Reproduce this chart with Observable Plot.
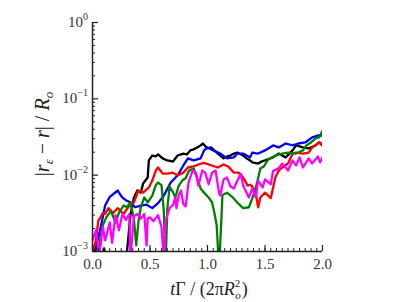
<!DOCTYPE html>
<html><head><meta charset="utf-8">
<script src="https://cdn.jsdelivr.net/npm/d3@7"></script>
<script src="https://cdn.jsdelivr.net/npm/@observablehq/plot@0.6"></script>
<style>body{margin:0;background:#fff}</style>
</head><body><div id="chart"></div>
<script>
const seriesNames = ["black","blue","red","green","magenta"];
const seriesColors = ["#08082a","#0000ff","#ff0000","#138a13","#ff3cc8"];

const tBlack = [0,0.04,0.08,0.1,0.12,0.2,0.27,0.3,0.33,0.36,0.39,0.42,0.44,0.46,0.48,0.49,0.52,0.55,0.57,0.61,0.65,0.7,0.74,0.79,0.82,0.85,0.88,0.91,0.94,0.96,1.0,1.03,1.06,1.09,1.14,1.17,1.2,1.23,1.26,1.31,1.34,1.37,1.39,1.44,1.47,1.5,1.57,1.62,1.68,1.71,1.74,1.77,1.83,1.88,1.91,1.94,1.97,2.0];
const vBlack = [0.0008,0.0012,0.0008,0.0011,0.0008,0.0008,0.0008,0.0010,0.0030,0.0051,0.0063,0.0059,0.0078,0.0085,0.0093,0.0156,0.0181,0.0176,0.0187,0.0166,0.0156,0.0151,0.0181,0.0192,0.0187,0.0211,0.0218,0.0231,0.0245,0.026,0.0224,0.0231,0.0211,0.0192,0.0166,0.0176,0.0181,0.0192,0.0198,0.0181,0.0166,0.0156,0.0147,0.0142,0.0151,0.0156,0.0171,0.0192,0.0171,0.0190,0.0211,0.0245,0.0231,0.0224,0.0235,0.0245,0.0268,0.0245];

const tBlue = [0,0.05,0.08,0.11,0.15,0.19,0.22,0.24,0.26,0.29,0.33,0.37,0.42,0.47,0.52,0.57,0.62,0.68,0.74,0.79,0.83,0.88,0.94,0.97,1.0,1.05,1.11,1.17,1.23,1.26,1.31,1.37,1.39,1.44,1.5,1.57,1.62,1.68,1.74,1.79,1.85,1.91,1.96,2.0];
const vBlue = [0.0009,0.0015,0.0024,0.0040,0.0052,0.0058,0.0063,0.0056,0.0051,0.0047,0.0044,0.0038,0.0040,0.0041,0.0037,0.0043,0.0054,0.0080,0.0099,0.0134,0.0166,0.0156,0.0166,0.0211,0.0231,0.0211,0.0192,0.0166,0.0171,0.0192,0.0192,0.0171,0.0198,0.0192,0.0211,0.0245,0.0231,0.026,0.0245,0.026,0.0268,0.0312,0.0331,0.0331];

const tRed = [0,0.03,0.05,0.09,0.11,0.14,0.18,0.22,0.27,0.31,0.36,0.40,0.44,0.49,0.52,0.55,0.57,0.61,0.65,0.70,0.74,0.79,0.83,0.88,0.92,0.97,1.03,1.09,1.14,1.18,1.23,1.27,1.31,1.35,1.37,1.39,1.42,1.44,1.46,1.50,1.55,1.59,1.62,1.65,1.70,1.74,1.77,1.83,1.88,1.91,1.96,1.98,2.0];
const vRed = [0.0010,0.0014,0.0025,0.0032,0.0031,0.0037,0.0032,0.0037,0.0031,0.0038,0.0044,0.0063,0.0059,0.0069,0.0085,0.0115,0.0126,0.0105,0.0105,0.0108,0.0099,0.0108,0.0126,0.0130,0.0138,0.0145,0.0135,0.0126,0.0138,0.0130,0.0108,0.0108,0.0093,0.0073,0.0075,0.0071,0.0058,0.0038,0.0051,0.0059,0.0050,0.0093,0.0115,0.0126,0.0142,0.0192,0.0198,0.0192,0.0198,0.0231,0.026,0.0268,0.0245];

const tGreen = [0.04,0.07,0.09,0.12,0.16,0.20,0.23,0.27,0.30,0.33,0.36,0.38,0.40,0.42,0.45,0.48,0.52,0.55,0.57,0.60,0.62,0.635,0.65,0.67,0.70,0.72,0.75,0.78,0.81,0.84,0.88,0.91,0.94,0.97,1.01,1.04,1.06,1.08,1.10,1.12,1.13,1.17,1.22,1.27,1.31,1.36,1.39,1.42,1.44,1.46,1.49,1.53,1.59,1.65,1.70,1.77,1.83,1.86,1.90,1.94,1.97,2.0];
const vGreen = [0.0008,0.0015,0.0022,0.0028,0.0034,0.0024,0.0032,0.0040,0.0038,0.0044,0.0027,0.0012,0.0025,0.0038,0.0051,0.0044,0.0054,0.0074,0.0080,0.0074,0.0034,0.0006,0.0035,0.0071,0.0060,0.0051,0.0073,0.0085,0.0091,0.0115,0.0122,0.0091,0.0067,0.0059,0.0051,0.0044,0.0032,0.0022,0.0006,0.0025,0.0055,0.0059,0.0051,0.0042,0.0037,0.0038,0.0050,0.0069,0.0091,0.0122,0.0130,0.0162,0.0181,0.0192,0.0198,0.0192,0.0211,0.0245,0.0268,0.0303,0.0312,0.038];

const tMagenta = [0,0.03,0.06,0.09,0.11,0.15,0.17,0.20,0.23,0.26,0.29,0.32,0.33,0.36,0.39,0.42,0.45,0.47,0.48,0.50,0.53,0.57,0.60,0.62,0.635,0.67,0.70,0.72,0.73,0.75,0.77,0.79,0.81,0.835,0.87,0.90,0.92,0.955,0.98,1.01,1.04,1.07,1.10,1.11,1.14,1.17,1.20,1.23,1.26,1.29,1.31,1.34,1.36,1.39,1.42,1.44,1.48,1.50,1.55,1.57,1.62,1.65,1.70,1.74,1.77,1.80,1.83,1.88,1.91,1.96,1.98,2.0];
const vMagenta = [0.0014,0.0019,0.0009,0.0021,0.0014,0.0024,0.0013,0.0030,0.0019,0.0031,0.0026,0.0031,0.0008,0.0029,0.0031,0.0027,0.0031,0.0012,0.0027,0.0028,0.0025,0.0030,0.0021,0.0008,0.0025,0.0037,0.0041,0.0051,0.0037,0.0055,0.0063,0.0042,0.0039,0.0080,0.0115,0.0108,0.0073,0.0115,0.0108,0.0076,0.0108,0.0115,0.0059,0.0054,0.0088,0.0093,0.0071,0.0067,0.0085,0.0104,0.0073,0.0059,0.0051,0.0067,0.0051,0.0085,0.0069,0.0088,0.0076,0.0113,0.0124,0.0142,0.0115,0.0156,0.0134,0.0171,0.0126,0.0166,0.0142,0.0176,0.0147,0.0171];

const xMajorTicks = [0, 0.5, 1, 1.5, 2];
const xTickLabels = ["0.0", "0.5", "1.0", "1.5", "2.0"];
const yMajorTicks = [1e-3, 1e-2, 1e-1, 1];
const yTickExponents = ["\u22123", "\u22122", "\u22121", "0"];

const xMinorTicks = d3.range(0, 40.5).map(i => i * 0.05);
const yMinorTicks = [];
for (const d of [1e-3, 1e-2, 1e-1]) for (let k = 2; k <= 9; k++) yMinorTicks.push(k * d);

const tArrays = [tBlack, tBlue, tRed, tGreen, tMagenta];
const vArrays = [vBlack, vBlue, vRed, vGreen, vMagenta];
const rows = [];
seriesNames.forEach((s, j) => tArrays[j].forEach((t, i) => rows.push({series: s, t, v: vArrays[j][i]})));

const FONT = "Liberation Serif";

const plot = Plot.plot({
  width: 399, height: 302,
  marginLeft: 92, marginRight: 77, marginTop: 22, marginBottom: 51,
  style: {fontFamily: "'Liberation Serif', serif", fontSize: "15px", color: "#333", background: "white", overflow: "visible"},
  x: {domain: [0, 2], ticks: xMajorTicks, tickFormat: d => xTickLabels[xMajorTicks.indexOf(d)], tickSize: 0, tickPadding: 7, label: null},
  y: {type: "log", domain: [1e-3, 1], axis: null},
  color: {domain: seriesNames, range: seriesColors},
  marks: [
    Plot.line(rows, {x: "t", y: "v", z: "series", stroke: "series", strokeWidth: 2.3, clip: true, strokeLinejoin: "round"}),
    Plot.ruleX(xMinorTicks, {x: d => d, y1: 1e-3, y2: 1e-3, insetTop: -3, stroke: "#222", strokeWidth: 1}),
    Plot.ruleX(xMajorTicks, {x: d => d, y1: 1e-3, y2: 1e-3, insetTop: -6, stroke: "#222", strokeWidth: 1.2}),
    Plot.ruleY(yMinorTicks, {y: d => d, x1: 0, x2: 0, insetRight: -3, stroke: "#222", strokeWidth: 1}),
    Plot.ruleY(yMajorTicks, {y: d => d, x1: 0, x2: 0, insetRight: -6, stroke: "#222", strokeWidth: 1.2}),
    Plot.ruleX([0], {stroke: "#222", strokeWidth: 1.5}),
    Plot.ruleY([1e-3], {stroke: "#222", strokeWidth: 1.5})
  ]
});
document.getElementById("chart").appendChild(plot);

const svg = d3.select(plot);
const yScale = plot.scale("y");
const xScale = plot.scale("x");
// y tick labels with superscript exponents
yMajorTicks.forEach((d, i) => {
  const t = svg.append("text").attr("x", xScale.apply(0) - 4).attr("y", yScale.apply(d) + 5)
    .attr("text-anchor", "end").attr("font-family", FONT).attr("font-size", 15).attr("fill", "#333");
  t.append("tspan").text("10");
  t.append("tspan").attr("font-size", 10).attr("dy", -7).text(yTickExponents[i]);
});
// x-axis label
const xl = svg.append("text").attr("x", 209).attr("y", 295).attr("text-anchor", "middle")
  .attr("font-family", FONT).attr("font-size", 18).attr("fill", "#222");
xl.append("tspan").attr("font-style", "italic").text("t");
xl.append("tspan").text("\u0393 / (2\u03C0");
xl.append("tspan").attr("font-style", "italic").text("R");
xl.append("tspan").attr("font-size", 11).attr("dy", -8).text("2");
xl.append("tspan").attr("font-size", 11).attr("font-style", "italic").attr("dx", -5).attr("dy", 12).text("o");
xl.append("tspan").attr("dx", 1).attr("dy", -4).text(")");
// y-axis label
const yl = svg.append("text").attr("transform", "translate(49,134) rotate(-90)").attr("text-anchor", "middle")
  .attr("font-family", FONT).attr("font-size", 20).attr("fill", "#222");
yl.append("tspan").text("|");
yl.append("tspan").attr("font-style", "italic").text("r");
yl.append("tspan").attr("font-size", 13).attr("font-style", "italic").attr("dy", 4).text("\u03B5");
yl.append("tspan").attr("dy", -4).text(" \u2212 ");
yl.append("tspan").attr("font-style", "italic").text("r");
yl.append("tspan").text("| / ");
yl.append("tspan").attr("font-style", "italic").text("R");
yl.append("tspan").attr("font-size", 13).attr("font-style", "italic").attr("dy", 4).text("o");
</script>
</body></html>
